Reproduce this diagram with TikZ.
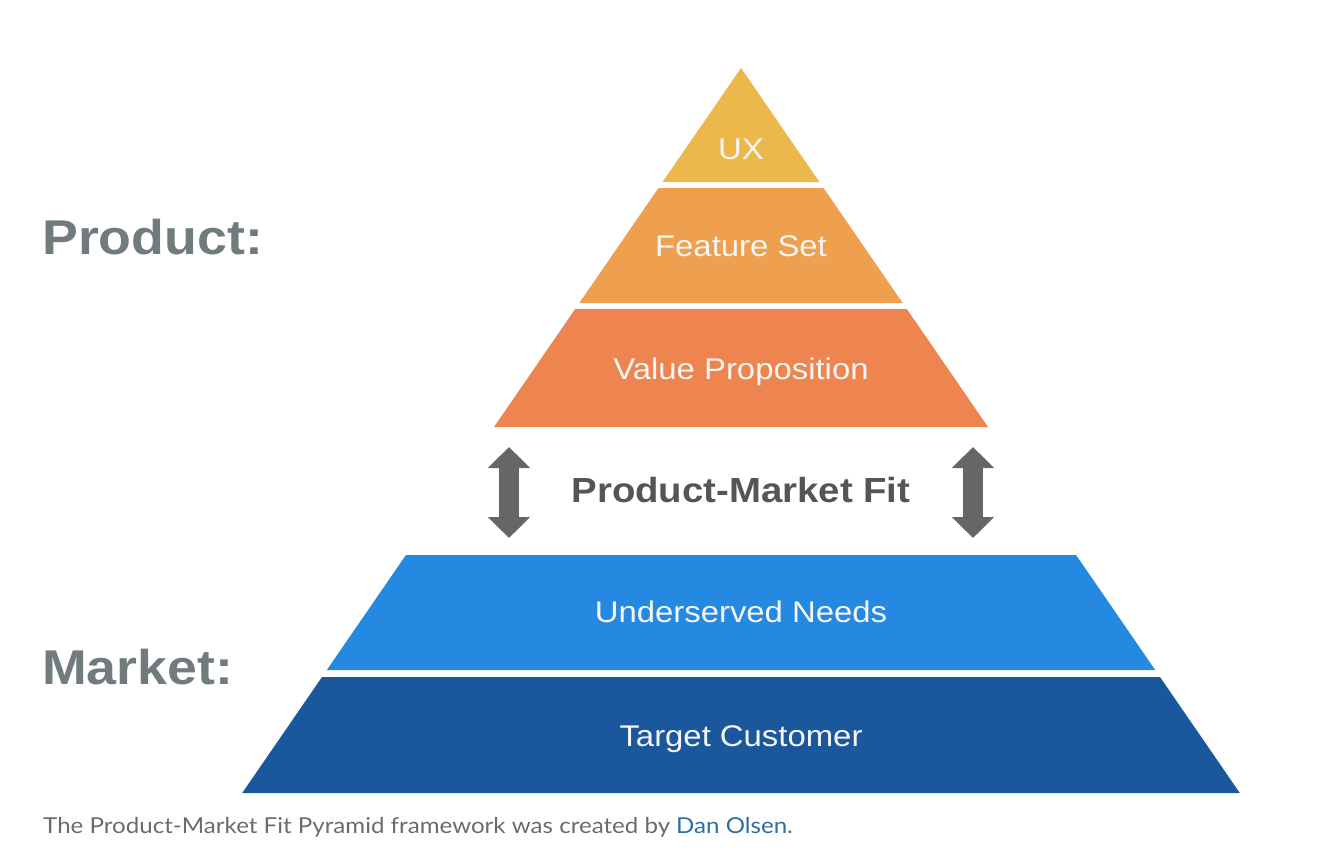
\documentclass[tikz,border=0pt]{standalone}
\usepackage{fontspec}
\usepackage{xcolor}
\usepackage{tikz}
\usetikzlibrary{positioning,arrows.meta}
\newfontfamily\pyrfont{Liberation Sans}[FakeStretch=1.1]
\newfontfamily\capfont{Lato}[FakeStretch=1.1]
\definecolor{uxcol}{HTML}{EDB84B}
\definecolor{featcol}{HTML}{EEA04E}
\definecolor{valuecol}{HTML}{EE8450}
\definecolor{needscol}{HTML}{2589E2}
\definecolor{custcol}{HTML}{1A579D}
\definecolor{arrowgray}{HTML}{666666}
\definecolor{fitgray}{HTML}{555555}
\definecolor{sidegray}{HTML}{6F7B7C}
\definecolor{capgray}{HTML}{6B6B6B}
\definecolor{olsenblue}{HTML}{2E6DA4}

\begin{document}
\begin{tikzpicture}[
			x=1bp, y=-1bp,
			layer/.style={text=white!96!black, inner sep=0pt, font=\pyrfont\fontsize{30}{30}\selectfont, text height=21.5bp, text depth=0pt},
			side/.style={text=sidegray, inner sep=0pt, anchor=west, font=\pyrfont\bfseries\fontsize{49}{49}\selectfont, text height=35bp, text depth=0pt},
			fitlabel/.style={text=fitgray, inner sep=0pt, font=\pyrfont\bfseries\fontsize{35}{35}\selectfont, text height=25bp, text depth=0pt},
			fitarrow/.style={draw=arrowgray, line width=20bp, {Triangle[length=21bp,width=41bp]}-{Triangle[length=21bp,width=41bp]}},
		]

			\useasboundingbox (0,0) rectangle (1334,858);

			% pyramid layers, apex at (741,68)
			\foreach \top/\bot/\col/\name/\txt/\ty in {68/182/uxcol/ux/UX/149, 188/303/featcol/features/Feature Set/246, 309/427/valuecol/value/Value Proposition/369, 555/670/needscol/needs/Underserved Needs/612, 677/793/custcol/customer/Target Customer/736} {
				\fill[\col] ({741-(\top-68)*0.688},\top) -- ({741+(\top-68)*0.688},\top) -- ({741+(\bot-68)*0.688},\bot) -- ({741-(\bot-68)*0.688},\bot) -- cycle;
				\node[layer] (\name) at (741,\ty) {\txt};
			}

			\node[fitlabel] (fit) at (741,490) {Product-Market Fit};
			\coordinate (fitLtop) at (509,447);
			\coordinate (fitLbot) at (509,538);
			\coordinate (fitRtop) at (973,447);
			\coordinate (fitRbot) at (973,538);
			\draw[fitarrow] (fitLtop) -- (fitLbot);
			\draw[fitarrow] (fitRtop) -- (fitRbot);

			\node[side] (product) at (42,236.5) {Product:};
			\node[side] (market) at (42,666.5) {Market:};

			\node[anchor=base west, inner sep=0pt, text=capgray, font=\capfont\fontsize{22}{22}\selectfont] (caption) at (43,833) {The Product-Market Fit Pyramid framework was created by \textcolor{olsenblue}{Dan Olsen}.};

		\end{tikzpicture}
\end{document}
